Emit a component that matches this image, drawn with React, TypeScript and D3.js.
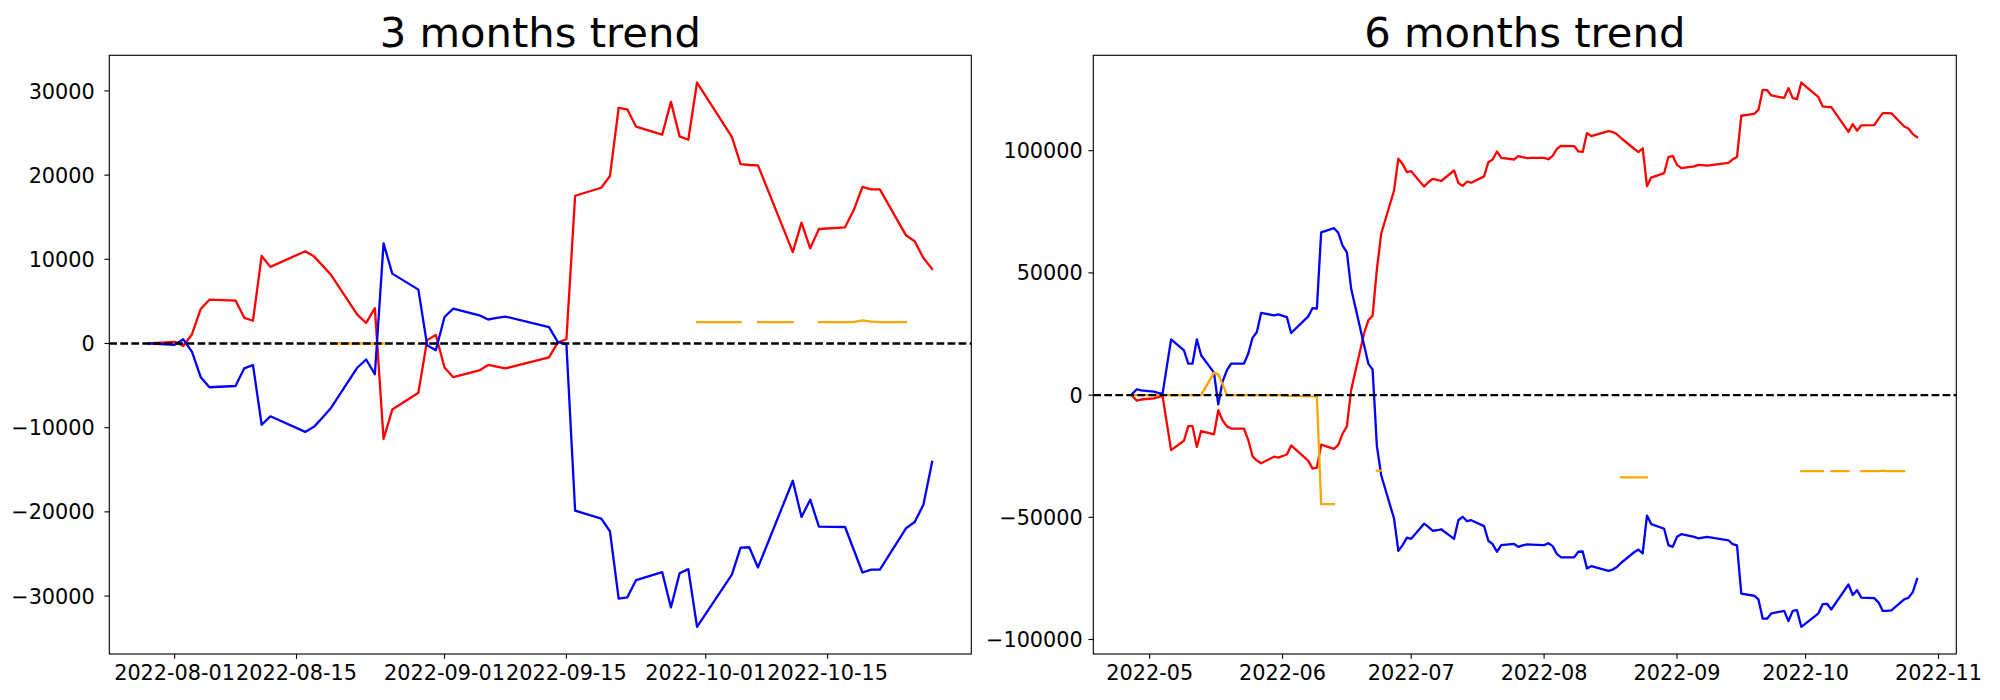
import React from "react";
import * as d3 from "d3";

// ---------- 3 months data ----------
const dates3m = [
  "2022-07-29",
  "2022-08-01","2022-08-02","2022-08-03","2022-08-04","2022-08-05",
  "2022-08-08","2022-08-09","2022-08-10","2022-08-11","2022-08-12",
  "2022-08-16","2022-08-17","2022-08-18","2022-08-19",
  "2022-08-22","2022-08-23","2022-08-24","2022-08-25","2022-08-26",
  "2022-08-29","2022-08-30","2022-08-31","2022-09-01","2022-09-02",
  "2022-09-05","2022-09-06","2022-09-07","2022-09-08",
  "2022-09-13","2022-09-14","2022-09-15","2022-09-16",
  "2022-09-19","2022-09-20","2022-09-21","2022-09-22","2022-09-23",
  "2022-09-26","2022-09-27","2022-09-28","2022-09-29","2022-09-30",
  "2022-10-04","2022-10-05","2022-10-06","2022-10-07",
  "2022-10-11","2022-10-12","2022-10-13","2022-10-14",
  "2022-10-17","2022-10-18","2022-10-19","2022-10-20","2022-10-21",
  "2022-10-24","2022-10-25","2022-10-26","2022-10-27",
];
const red3m = [
  0,
  200, -300, 1100, 4100, 5200,
  5100, 3050, 2700, 10400, 9100,
  10950, 10350, 9250, 8100,
  3400, 2450, 4200, -11350, -7850,
  -5850, 400, 1000, -2850, -4000,
  -3200, -2550, -2750, -2950,
  -1650, 100, 500, 17550,
  18500, 19900, 28000, 27800, 25750,
  24800, 28700, 24600, 24200, 31000,
  24550, 21300, 21200, 21150,
  10850, 14350, 11300, 13600,
  13800, 15850, 18600, 18300, 18300,
  12850, 12150, 10150, 8850,
];
const blue3m = [
  0,
  -150, 500, -1000, -4000, -5200,
  -5050, -2950, -2550, -9650, -8650,
  -10500, -9900, -8800, -7600,
  -2850, -1900, -3650, 11900, 8300,
  6400, -200, -800, 3150, 4150,
  3350, 2850, 3050, 3200,
  1950, 200, -100, -19850,
  -20800, -22300, -30300, -30150, -28100,
  -27150, -31350, -27300, -26800, -33650,
  -27450, -24250, -24200, -26600,
  -16300, -20600, -18550, -21750,
  -21800, -24500, -27200, -26850, -26850,
  -21950, -21200, -19150, -14050,
];
const orange3m: (number | null)[] = [
  null,
  null, null, null, null, null,
  null, null, null, null, null,
  null, null, null, 0,
  0, 0, 0, 0, null,
  null, null, null, null, null,
  null, null, null, null,
  null, null, null, null,
  null, null, null, null, null,
  null, null, null, null, 2550,
  2550, 2550, null, 2550,
  2550, null, null, 2550,
  2550, 2550, 2750, 2600, 2550,
  2550, null, null, null,
];

// ---------- 6 months data (values in thousands) ----------
const dates6mHead = [
  "2022-04-27","2022-04-28","2022-04-29",
  "2022-05-02","2022-05-03","2022-05-04","2022-05-06",
  "2022-05-09","2022-05-10","2022-05-11","2022-05-12","2022-05-13",
  "2022-05-16","2022-05-17","2022-05-18","2022-05-19","2022-05-20",
  "2022-05-23","2022-05-24","2022-05-25","2022-05-26","2022-05-27",
  "2022-05-30","2022-05-31","2022-06-02","2022-06-03",
  "2022-06-07","2022-06-08","2022-06-09","2022-06-10",
  "2022-06-13","2022-06-14","2022-06-15","2022-06-16","2022-06-17",
  "2022-06-20","2022-06-21","2022-06-22","2022-06-23","2022-06-24",
  "2022-06-27","2022-06-28","2022-06-29","2022-06-30","2022-07-01",
  "2022-07-04","2022-07-05","2022-07-06","2022-07-07","2022-07-08",
  "2022-07-11","2022-07-12","2022-07-13","2022-07-14","2022-07-15",
  "2022-07-18","2022-07-19","2022-07-20","2022-07-21","2022-07-22",
  "2022-07-25","2022-07-26","2022-07-27","2022-07-28",
];
const dates6m = [...dates6mHead, ...dates3m];
const red6mK = [
  -0.4, -2.3, -1.8,
  -1.3, -0.8, -0.3, -22.5,
  -18.7, -12.7, -12.7, -21.2, -14.7,
  -16.1, -6.2, -10.3, -12.8, -13.7,
  -13.7, -18.4, -25.0, -26.8, -27.9,
  -25.2, -25.6, -24.3, -20.6,
  -26.9, -30.1, -29.7, -20.3,
  -22.0, -20.4, -15.8, -12.8, 2.1,
  25.2, 30.6, 32.5, 51.5, 66.0,
  83.7, 96.7, 94.6, 91.2, 91.6,
  85.3, 87.1, 88.5, 88.1, 87.6,
  91.9, 86.8, 85.6, 87.3, 86.9,
  89.5, 95.3, 96.4, 99.7, 97.1,
  96.4, 97.8, 97.4, 97.0,
  97.1,
  97.1, 96.5, 97.9, 100.8, 102.0,
  101.9, 99.7, 99.5, 107.2, 106.0,
  108.0, 107.7, 106.7, 105.1,
  100.8, 99.4, 101.0, 85.5, 89.0,
  90.8, 97.4, 97.9, 94.2, 92.9,
  93.6, 94.2, 94.1, 93.9,
  95.0, 96.5, 97.4, 114.3,
  115.1, 116.7, 124.9, 124.8, 122.6,
  121.6, 125.6, 121.5, 121.1, 127.9,
  121.9, 118.1, 117.9, 117.8,
  107.7, 110.9, 108.2, 110.4,
  110.5, 113.0, 115.4, 115.4, 115.3,
  109.9, 109.1, 106.8, 105.5,
];
const blue6mK = [
  0.6, 2.4, 1.9,
  1.4, 0.9, 0.5, 22.8,
  18.3, 12.9, 12.9, 22.8, 16.3,
  9.2, -3.8, 5.5, 10.1, 12.9,
  12.9, 17.0, 23.4, 25.8, 33.6,
  32.6, 33.0, 31.9, 25.4,
  32.2, 35.6, 35.4, 66.6,
  68.3, 66.4, 61.2, 58.4, 43.5,
  20.5, 12.9, 10.4, -20.9, -32.8,
  -50.5, -63.7, -61.4, -58.3, -58.8,
  -52.6, -53.9, -55.5, -55.3, -54.9,
  -58.8, -51.2, -49.8, -51.6, -51.2,
  -53.6, -59.6, -61.0, -64.1, -61.4,
  -60.9, -62.1, -61.5, -61.1,
  -61.2,
  -61.4, -60.6, -61.8, -65.1, -66.4,
  -66.4, -64.1, -64.0, -70.9, -70.0,
  -71.9, -71.4, -70.3, -68.6,
  -64.3, -63.2, -64.8, -49.3, -52.8,
  -54.7, -61.4, -62.1, -58.0, -56.9,
  -58.0, -58.6, -58.3, -58.0,
  -59.4, -61.0, -61.5, -81.2,
  -82.1, -83.6, -91.5, -91.5, -89.3,
  -88.3, -92.5, -88.3, -88.0, -94.8,
  -89.3, -85.5, -85.4, -87.7,
  -77.5, -81.8, -79.8, -82.9,
  -83.1, -84.8, -88.3, -88.3, -88.1,
  -83.6, -82.9, -80.6, -75.2,
];
const orange6mK: (number | null)[] = [
  0, 0, 0,
  0, 0, 0, 0,
  0, 0, 0, 0, 0,
  9.2, 8.5, 4.4, 0.2, 0,
  0, 0, 0, 0, 0,
  0, 0, -0.2, -0.3,
  -0.4, -0.5, -0.5, -44.6,
  -44.6, null, null, null, null,
  null, null, null, -30.9, -30.9,
  null, null, null, null, null,
  null, null, null, null, null,
  null, null, null, null, null,
  null, null, null, null, null,
  null, null, null, null,
  null,
  null, null, null, null, null,
  null, null, null, null, null,
  null, null, null, -33.7,
  -33.7, -33.7, -33.7, -33.7, null,
  null, null, null, null, null,
  null, null, null, null,
  null, null, null, null,
  null, null, null, null, null,
  null, null, null, null, -31.1,
  -31.1, -31.1, null, -31.1,
  -31.1, null, null, -31.1,
  -31.1, -31.1, -30.9, -31.1, -31.1,
  -31.1, null, null, null,
];
const red6m = red6mK.map((v) => v * 1000);
const blue6m = blue6mK.map((v) => v * 1000);
const orange6m = orange6mK.map((v) => (v == null ? null : v * 1000));

// ---------- ticks ----------
const xTicks3m = ["2022-08-01", "2022-08-15", "2022-09-01", "2022-09-15", "2022-10-01", "2022-10-15"];
const yTicks3m = [-30000, -20000, -10000, 0, 10000, 20000, 30000];
const xTicks6m = ["2022-05-01", "2022-06-01", "2022-07-01", "2022-08-01", "2022-09-01", "2022-10-01", "2022-11-01"];
const yTicks6m = [-100000, -50000, 0, 50000, 100000];

const parse = d3.timeParse("%Y-%m-%d");
const FONT = "DejaVu Sans, Verdana, sans-serif";
const TICK_FS = 20.8;
const LW = 2.3;

type PanelProps = {
  title: string;
  dates: string[];
  red: number[];
  blue: number[];
  orange: (number | null)[];
  xTicks: string[];
  xFmt: (d: Date) => string;
  yTicks: number[];
  left: number;
  right: number;
  top: number;
  bottom: number;
  yLabelGap: number;
};

function Panel(p: PanelProps) {
  const ds = p.dates.map((s) => parse(s) as Date);
  const t0 = +ds[0];
  const t1 = +ds[ds.length - 1];
  const tp = (t1 - t0) * 0.05;
  const x = d3.scaleTime().domain([new Date(t0 - tp), new Date(t1 + tp)]).range([p.left, p.right]);
  const all = [...p.red, ...p.blue, ...(p.orange.filter((v) => v != null) as number[])];
  const mn = d3.min(all) as number;
  const mx = d3.max(all) as number;
  const yp = (mx - mn) * 0.05;
  const y = d3.scaleLinear().domain([mn - yp, mx + yp]).range([p.bottom, p.top]);

  const line = d3
    .line<[Date, number | null]>()
    .defined((d) => d[1] != null)
    .x((d) => x(d[0]))
    .y((d) => y(d[1] as number));

  const mk = (vals: (number | null)[]) => line(ds.map((d, i) => [d, vals[i]] as [Date, number | null])) || "";
  const clipId = "clip-" + p.title.replace(/\s/g, "");

  return (
    <g>
      <defs>
        <clipPath id={clipId}>
          <rect x={p.left} y={p.top} width={p.right - p.left} height={p.bottom - p.top} />
        </clipPath>
      </defs>
      <g clipPath={`url(#${clipId})`}>
        <path d={mk(p.red)} fill="none" stroke="#ff0000" strokeWidth={LW} strokeLinejoin="round" strokeLinecap="square" />
        <path d={mk(p.blue)} fill="none" stroke="#0000ff" strokeWidth={LW} strokeLinejoin="round" strokeLinecap="square" />
        <path d={mk(p.orange)} fill="none" stroke="#ffa500" strokeWidth={LW} strokeLinejoin="round" strokeLinecap="square" />
        <line x1={p.left} x2={p.right} y1={y(0)} y2={y(0)} stroke="#000" strokeWidth={LW} strokeDasharray="7.7 3.33" />
      </g>
      <rect x={p.left} y={p.top} width={p.right - p.left} height={p.bottom - p.top} fill="none" stroke="#000" strokeWidth={1.11} />
      {p.xTicks.map((s) => {
        const d = parse(s) as Date;
        const xx = x(d);
        return (
          <g key={s}>
            <line x1={xx} x2={xx} y1={p.bottom} y2={p.bottom + 4.86} stroke="#000" strokeWidth={1.11} />
            <text x={xx} y={p.bottom + 26} textAnchor="middle" fontFamily={FONT} fontSize={TICK_FS} fill="#000">
              {p.xFmt(d)}
            </text>
          </g>
        );
      })}
      {p.yTicks.map((v) => {
        const yy = y(v);
        return (
          <g key={v}>
            <line x1={p.left - 4.86} x2={p.left} y1={yy} y2={yy} stroke="#000" strokeWidth={1.11} />
            <text x={p.left - p.yLabelGap} y={yy + 7.6} textAnchor="end" fontFamily={FONT} fontSize={TICK_FS} fill="#000">
              {String(v).replace("-", "\u2212")}
            </text>
          </g>
        );
      })}
      <text x={(p.left + p.right) / 2} y={p.top - 8.3} textAnchor="middle" fontFamily={FONT} fontSize={41.7} fill="#000">
        {p.title}
      </text>
    </g>
  );
}

export default function App() {
  const top = 55.3;
  const bottom = 654;
  return (
    <svg
      width={2000}
      height={700}
      viewBox="0 0 2000 700"
      style={{ position: "absolute", left: 0, top: 0, background: "#fff" }}
    >
      <rect x={0} y={0} width={2000} height={700} fill="#fff" />
      <Panel
        title="3 months trend"
        dates={dates3m}
        red={red3m}
        blue={blue3m}
        orange={orange3m}
        xTicks={xTicks3m}
        xFmt={d3.timeFormat("%Y-%m-%d")}
        yTicks={yTicks3m}
        left={109.3}
        right={971.3}
        top={top}
        bottom={bottom}
        yLabelGap={14.5}
      />
      <Panel
        title="6 months trend"
        dates={dates6m}
        red={red6m}
        blue={blue6m}
        orange={orange6m}
        xTicks={xTicks6m}
        xFmt={d3.timeFormat("%Y-%m")}
        yTicks={yTicks6m}
        left={1093.3}
        right={1956.3}
        top={top}
        bottom={bottom}
        yLabelGap={10.5}
      />
    </svg>
  );
}
